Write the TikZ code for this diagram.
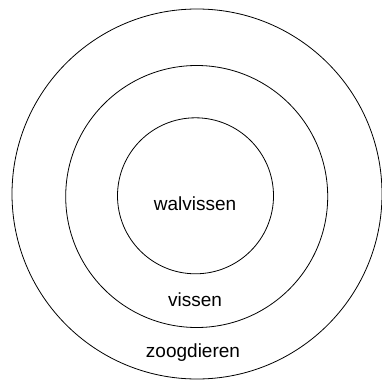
\documentclass[tikz,border=0pt]{standalone}
\usepackage{fontspec}
\setmainfont{Liberation Sans}
\begin{document}
\begin{tikzpicture}[x=1pt,y=1pt,
  ring/.style={draw,circle,line width=0.8pt,inner sep=0pt},
  word/.style={anchor=base,inner sep=0pt,font=\fontsize{19}{23}\selectfont}]
\useasboundingbox (0,0) rectangle (382,381);
\node[ring,minimum size=370pt] (zoog) at (197,187) {};
\node[ring,minimum size=262pt] (vis) at (196.7,184.5) {};
\node[ring,minimum size=156pt] (wal) at (195.5,185.2) {};

\node[word] (walt) at (195,170.3) {walvissen};
\node[word] (vist) at (195,75) {vissen};
\node[word] (zoogt) at (193,23.3) {zoogdieren};
\end{tikzpicture}
\end{document}
